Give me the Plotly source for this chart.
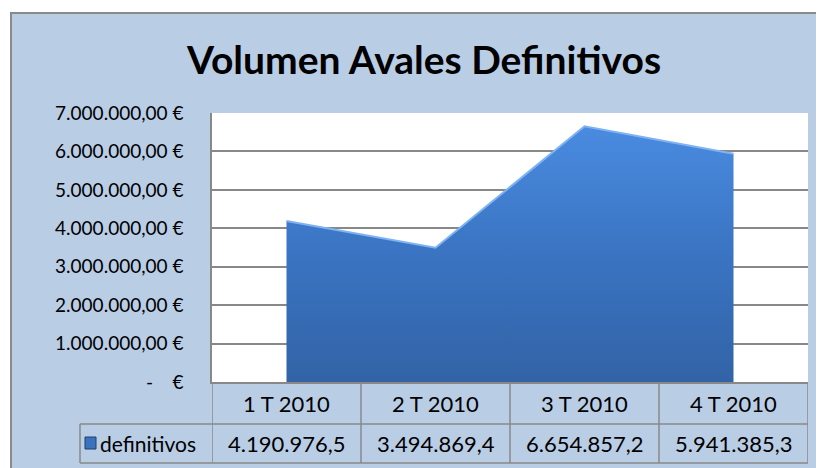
import plotly.graph_objects as go

# ---- data ----
categories = ["1 T 2010", "2 T 2010", "3 T 2010", "4 T 2010"]
series_name = "definitivos"
values = [4190976.5, 3494869.4, 6654857.2, 5941385.3]
tick_vals = [0, 1000000, 2000000, 3000000, 4000000, 5000000, 6000000, 7000000]
title_text = "Volumen Avales Definitivos"


def es(v, dec):
    s = f"{v:,.{dec}f}"
    return s.replace(",", "X").replace(".", ",").replace("X", ".")


tick_text = [("-\u00a0\u00a0\u00a0\u00a0€" if v == 0 else es(v, 2) + " €") for v in tick_vals]

# ---- layout geometry (screen pixels; the page body has an 8px margin) ----
OFF = 8
SW, SH = 824, 468
W, H = SW - OFF, SH - OFF
PL, PR, PT, PB = 212, 808, 113, 382  # plot area in screen pixels
L, R, T, B = PL - OFF, SW - PR, PT - OFF, SH - PB
PW, PH = PR - PL, PB - PT


def px(xp):
    return (xp - PL) / PW


def py(yp):
    return (PB - yp) / PH


FONT = "Lato, 'Open Sans', sans-serif"
BG = "#B9CDE5"
GRID = "#888888"
FS_TABLE = 22
FS_TICK = 19

fig = go.Figure()
fig.add_trace(go.Scatter(
    x=list(range(len(categories))), y=values, mode="lines",
    fill="tozeroy",
    fillgradient=dict(type="vertical",
                      colorscale=[[0, "#3263A6"], [0.5, "#3A74C2"], [1, "#4A8BE0"]]),
    line=dict(color="#7FB3F2", width=2),
    name=series_name, showlegend=False, hoverinfo="skip",
))

shapes = []
# white strips outside the chart frame
shapes.append(dict(type="rect", xref="paper", yref="paper", x0=px(-5), x1=px(10),
                   y0=py(-5), y1=py(SH + 5), fillcolor="white", line=dict(width=0), layer="above"))
shapes.append(dict(type="rect", xref="paper", yref="paper", x0=px(-5), x1=px(SW + 5),
                   y0=py(-5), y1=py(12), fillcolor="white", line=dict(width=0), layer="above"))
# chart frame
shapes.append(dict(type="rect", xref="paper", yref="paper", x0=px(11), x1=px(SW + 10),
                   y0=py(13), y1=py(SH + 10), fillcolor="rgba(0,0,0,0)",
                   line=dict(color="#8A8A8A", width=2), layer="above"))

# data table grid
row1_bot = py(424)
row2_bot = py(463)
for i in range(len(categories) + 1):
    shapes.append(dict(type="line", xref="x", yref="paper", x0=i - 0.5, x1=i - 0.5,
                       y0=0, y1=row2_bot, line=dict(color=GRID, width=1.5), layer="above"))
shapes.append(dict(type="line", xref="paper", yref="paper", x0=px(80), x1=1,
                   y0=row1_bot, y1=row1_bot, line=dict(color=GRID, width=1.5), layer="above"))
shapes.append(dict(type="line", xref="paper", yref="paper", x0=px(80), x1=1,
                   y0=row2_bot, y1=row2_bot, line=dict(color=GRID, width=1.5), layer="above"))
shapes.append(dict(type="line", xref="paper", yref="paper", x0=px(80), x1=px(80),
                   y0=row1_bot, y1=row2_bot, line=dict(color=GRID, width=1.5), layer="above"))
# legend key
shapes.append(dict(type="rect", xref="paper", yref="paper", x0=px(85), x1=px(96),
                   y0=py(449), y1=py(437), fillcolor="#3A72BE",
                   line=dict(color="#1F3F6E", width=1), layer="above"))

annotations = []
hdr_y = py(403)
val_y = py(443.5)
for i, (c, v) in enumerate(zip(categories, values)):
    annotations.append(dict(x=i, y=hdr_y, xref="x", yref="paper", text=c, showarrow=False,
                            font=dict(family=FONT, size=FS_TABLE, color="black"),
                            xanchor="center", yanchor="middle"))
    annotations.append(dict(x=i, y=val_y, xref="x", yref="paper", text=es(v, 1), showarrow=False,
                            font=dict(family=FONT, size=FS_TABLE, color="black"),
                            xanchor="center", yanchor="middle"))
annotations.append(dict(x=px(98), y=val_y, xref="paper", yref="paper", text=series_name,
                        showarrow=False, font=dict(family=FONT, size=FS_TABLE - 1, color="black"),
                        xanchor="left", yanchor="middle"))

fig.update_layout(
    width=W, height=H,
    margin=dict(l=L, r=R, t=T, b=B, autoexpand=False),
    paper_bgcolor=BG, plot_bgcolor="white",
    title=dict(text=f"<b>{title_text}</b>", x=(424 - OFF) / W, xanchor="center",
               y=1 - (60 - OFF) / H, yanchor="middle",
               font=dict(family=FONT, size=39, color="black")),
    xaxis=dict(range=[-0.5, len(categories) - 0.5], showticklabels=False, showgrid=False,
               zeroline=False, showline=True, linecolor=GRID, linewidth=1.5, fixedrange=True),
    yaxis=dict(range=[0, 7000000], tickvals=tick_vals, ticktext=tick_text,
               showgrid=True, gridcolor=GRID, gridwidth=1.5, zeroline=False,
               showline=True, linecolor=GRID, linewidth=1.5, ticks="",
               ticklabelstandoff=23,
               tickfont=dict(family=FONT, size=FS_TICK, color="black"), fixedrange=True),
    shapes=shapes, annotations=annotations, showlegend=False,
)

fig.write_html("out.html")
